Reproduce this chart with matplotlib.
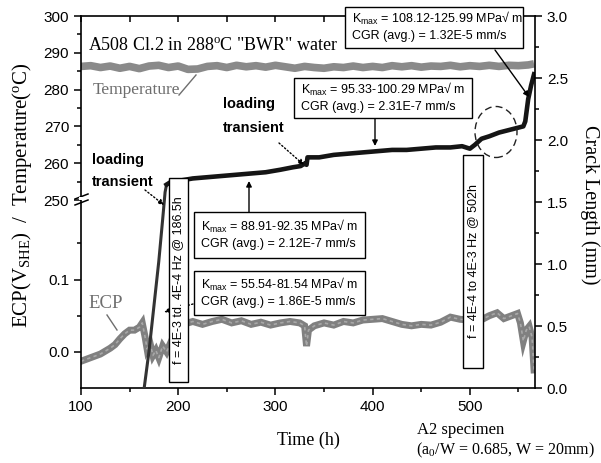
import matplotlib
matplotlib.use('Agg')
import matplotlib.pyplot as plt
from matplotlib.patches import Rectangle, Ellipse
from matplotlib.ticker import MultipleLocator, FixedLocator, FormatStrFormatter

# values
temp_t = [100, 110, 120, 130, 140, 150, 160, 170, 180, 190, 200, 210, 220, 230, 240,
          250, 260, 270, 280, 290, 300, 310, 320, 330, 340, 350, 360, 370, 380, 390,
          400, 410, 420, 430, 440, 450, 460, 470, 480, 490, 500, 510, 520, 530, 540,
          550, 560, 566]
temp_c = [286.3, 286.5, 286.0, 286.4, 285.8, 286.3, 285.7, 286.4, 286.6, 286.0, 286.4,
          285.5, 285.6, 286.3, 286.5, 286.0, 286.6, 286.2, 286.5, 286.1, 286.6, 286.2,
          285.8, 286.3, 286.0, 285.8, 286.2, 286.0, 286.4, 286.0, 286.3, 286.0, 286.5,
          286.2, 286.5, 286.1, 286.4, 286.3, 286.6, 286.2, 286.5, 286.3, 286.6, 286.3,
          286.6, 286.5, 286.7, 287.0]

ecp_t = [100, 110, 120, 130, 135, 140, 145, 150, 155, 160, 163, 166, 168, 171, 174,
         177, 180, 184, 188, 192, 196, 200, 205, 215, 225, 235, 245, 255, 265, 275,
         285, 295, 305, 315, 325, 330, 332, 334, 340, 350, 360, 370, 380, 390, 400,
         410, 420, 430, 440, 450, 460, 470, 480, 490, 500, 505, 510, 520, 528, 535,
         543, 549, 552, 555, 558, 561, 564, 566]
ecp_v = [-0.013, -0.008, -0.003, 0.005, 0.010, 0.018, 0.025, 0.030, 0.030, 0.034,
         0.040, 0.020, 0.004, 0.012, -0.005, 0.002, -0.008, 0.008, 0.000, 0.012,
         0.024, 0.033, 0.038, 0.042, 0.038, 0.042, 0.045, 0.040, 0.043, 0.038,
         0.041, 0.037, 0.040, 0.042, 0.040, 0.036, 0.008, 0.030, 0.036, 0.040,
         0.037, 0.042, 0.040, 0.044, 0.045, 0.046, 0.042, 0.038, 0.036, 0.038,
         0.037, 0.041, 0.048, 0.045, 0.044, 0.046, 0.043, 0.050, 0.054, 0.046,
         0.050, 0.053, 0.040, 0.015, 0.030, 0.035, 0.020, -0.025]

crack_t = [165, 170, 175, 180, 184, 186.5, 188, 192, 200, 215, 230, 245, 260, 275,
           290, 305, 318, 326, 330, 332, 333, 345, 360, 375, 390, 405, 420, 435, 450,
           465, 480, 492, 500, 505, 512, 520, 530, 540, 550, 555, 557, 560, 563, 566]
crack_mm = [0.0, 0.30, 0.66, 1.02, 1.36, 1.58, 1.64, 1.66, 1.67, 1.69, 1.70, 1.71,
            1.72, 1.73, 1.74, 1.76, 1.78, 1.79, 1.81, 1.80, 1.86, 1.86, 1.88, 1.89,
            1.90, 1.91, 1.92, 1.92, 1.93, 1.94, 1.94, 1.95, 1.93, 1.96, 2.01, 2.03,
            2.06, 2.08, 2.10, 2.11, 2.15, 2.33, 2.44, 2.53]

W, H = 601, 463
def fx(x):
    return x / W
def fy(y):
    return 1 - y / H

SERIF = ['Liberation Serif', 'DejaVu Serif']
SANS = ['Liberation Sans', 'DejaVu Sans']
plt.rcParams['font.family'] = SANS
plt.rcParams['axes.linewidth'] = 1.2

fig = plt.figure(figsize=(6.01, 4.63), dpi=100)

L, R, T, B, BRK = 81, 535, 16, 388, 200
ax_t = fig.add_axes([fx(L), fy(BRK), fx(R) - fx(L), fy(T) - fy(BRK)])
ax_b = fig.add_axes([fx(L), fy(B), fx(R) - fx(L), fy(BRK) - fy(B)])
ax_r = fig.add_axes([fx(L), fy(B), fx(R) - fx(L), fy(T) - fy(B)])

for ax in (ax_t, ax_b, ax_r):
    ax.set_xlim(100, 567)

# temperature (upper part of left axis)
ax_t.plot(temp_t, temp_c, color='#8a8a8a', lw=5.5, solid_capstyle='butt')
ax_t.set_ylim(250, 300)
ax_t.spines['bottom'].set_visible(False)
ax_t.spines['right'].set_visible(False)
ax_t.xaxis.set_major_locator(MultipleLocator(100))
ax_t.xaxis.set_minor_locator(MultipleLocator(50))
ax_t.tick_params(axis='x', which='both', top=True, bottom=False, labelbottom=False,
                 direction='in', length=4, width=1.1)
ax_t.yaxis.set_major_locator(MultipleLocator(10))
ax_t.yaxis.set_minor_locator(MultipleLocator(5))
ax_t.tick_params(axis='y', which='major', direction='out', length=5, width=1.1, labelsize=11)
ax_t.tick_params(axis='y', which='minor', direction='out', length=3, width=1.1)

# ECP (lower part of left axis)
ax_b.plot(ecp_t, ecp_v, color='#808080', lw=5, solid_joinstyle='miter')
ax_b.plot(ecp_t, ecp_v, color='#a8a8a8', lw=1.2, ls=(0, (2, 2)))
ax_b.set_ylim(-0.05, 0.21)
ax_b.spines['top'].set_visible(False)
ax_b.spines['right'].set_visible(False)
ax_b.xaxis.set_major_locator(MultipleLocator(100))
ax_b.xaxis.set_minor_locator(MultipleLocator(50))
ax_b.tick_params(axis='x', which='major', direction='out', length=5, width=1.1, labelsize=11)
ax_b.tick_params(axis='x', which='minor', direction='out', length=3, width=1.1)
ax_b.yaxis.set_major_locator(FixedLocator([0.0, 0.1]))
ax_b.yaxis.set_minor_locator(FixedLocator([0.05, 0.15]))
ax_b.yaxis.set_major_formatter(FormatStrFormatter('%.1f'))
ax_b.tick_params(axis='y', which='major', direction='out', length=5, width=1.1, labelsize=11)
ax_b.tick_params(axis='y', which='minor', direction='out', length=3, width=1.1)

# crack length (right axis)
ax_r.patch.set_visible(False)
ax_r.plot(crack_t[:7], crack_mm[:7], color='#333333', lw=2.2)
ax_r.plot(crack_t[6:], crack_mm[6:], color='#151515', lw=3.3)
ax_r.set_ylim(0, 3)
for s in ('left', 'top', 'bottom'):
    ax_r.spines[s].set_visible(False)
ax_r.set_xticks([])
ax_r.yaxis.tick_right()
ax_r.yaxis.set_major_locator(MultipleLocator(0.5))
ax_r.yaxis.set_minor_locator(MultipleLocator(0.25))
ax_r.yaxis.set_major_formatter(FormatStrFormatter('%.1f'))
ax_r.tick_params(axis='y', which='major', direction='out', length=5, width=1.1, labelsize=11)
ax_r.tick_params(axis='y', which='minor', direction='out', length=3, width=1.1)

# axis break marks
for dy in (0, 6):
    fig.add_artist(plt.Line2D([fx(75), fx(88)], [fy(199 + dy), fy(194 + dy)],
                              transform=fig.transFigure, color='k', lw=1.1))
fig.add_artist(Rectangle((fx(79), fy(200)), fx(84) - fx(79), fy(197) - fy(200),
                         transform=fig.transFigure, fc='white', ec='none', zorder=4))

# axis labels
fig.text(fx(22), fy(195), r'ECP(V$\mathregular{_{SHE}}$)  /  Temperature($\mathregular{^o}$C)',
         rotation=90, ha='center', va='center', fontsize=15, family=SERIF)
fig.text(fx(590), fy(205), 'Crack Length (mm)', rotation=270, ha='center', va='center',
         fontsize=14.5, family=SERIF)
fig.text(fx(308), fy(440), 'Time (h)', ha='center', va='center', fontsize=13, family=SERIF)
fig.text(fx(417), fy(430), 'A2 specimen', ha='left', va='center', fontsize=12, family=SERIF)
fig.text(fx(416), fy(450), r'(a$\mathregular{_0}$/W = 0.685, W = 20mm)', ha='left',
         va='center', fontsize=11.5, family=SERIF)

# in-plot labels
fig.text(fx(88), fy(45), r'A508 Cl.2 in 288$\mathregular{^o}$C "BWR" water', ha='left',
         va='center', fontsize=13, family=SERIF, zorder=6)
fig.text(fx(93), fy(90), 'Temperature', ha='left', va='center', fontsize=12.5,
         family=SERIF, color='#6e6e6e', zorder=6)
fig.add_artist(plt.Line2D([fx(179), fx(196)], [fy(95), fy(75)], transform=fig.transFigure,
                          color='#6e6e6e', lw=1))
fig.text(fx(88), fy(303), 'ECP', ha='left', va='center', fontsize=13.5, family=SERIF,
         color='#6e6e6e', zorder=6)
fig.add_artist(plt.Line2D([fx(107), fx(117)], [fy(315), fy(330)], transform=fig.transFigure,
                          color='#6e6e6e', lw=1))

fig.text(fx(92), fy(160), 'loading', ha='left', va='center', fontsize=10.5,
         fontweight='bold', zorder=6)
fig.text(fx(92), fy(182), 'transient', ha='left', va='center', fontsize=10.5,
         fontweight='bold', zorder=6)
fig.text(fx(223), fy(104), 'loading', ha='left', va='center', fontsize=10.5,
         fontweight='bold', zorder=6)
fig.text(fx(223), fy(128), 'transient', ha='left', va='center', fontsize=10.5,
         fontweight='bold', zorder=6)


def arrow(x0, y0, x1, y1, ls='-'):
    ax_r.annotate('', xy=(fx(x1), fy(y1)), xytext=(fx(x0), fy(y0)),
                  xycoords='figure fraction', textcoords='figure fraction',
                  arrowprops=dict(arrowstyle='-|>', lw=1, color='k', ls=ls,
                                  mutation_scale=8, shrinkA=0, shrinkB=0))


arrow(145, 190, 164, 205, ':')
arrow(279, 143, 304, 165, ':')
arrow(193, 304, 164, 312, ':')
arrow(249, 212, 249, 181)
arrow(375, 119, 375, 146)
arrow(495, 50, 529, 97)


def box(x0, y0, x1, y1):
    fig.add_artist(Rectangle((fx(x0), fy(y1)), fx(x1) - fx(x0), fy(y0) - fy(y1),
                             transform=fig.transFigure, fc='white', ec='k', lw=1, zorder=5))


kbox = [
    (194, 212, 365, 258, '88.91-92.35', '2.12E-7'),
    (194, 271, 365, 315, '55.54-81.54', '1.86E-5'),
    (294, 78, 472, 118, '95.33-100.29', '2.31E-7'),
    (345, 7, 523, 48, '108.12-125.99', '1.32E-5'),
]
for x0, y0, x1, y1, k, cgr in kbox:
    box(x0, y0, x1, y1)
    ym = (y0 + y1) / 2
    fig.text(fx(x0 + 7), fy(ym - 9), r'K$\mathregular{_{max}}$ = ' + k + ' MPa\u221a m',
             ha='left', va='center', fontsize=9, zorder=6)
    fig.text(fx(x0 + 7), fy(ym + 9), 'CGR (avg.) = ' + cgr + ' mm/s',
             ha='left', va='center', fontsize=9, zorder=6)

box(169, 178, 188, 382)
fig.text(fx(178.5), fy(280), 'f = 4E-3 td. 4E-4 Hz @ 186.5h', rotation=90, ha='center',
         va='center', fontsize=9, zorder=6)
box(463, 155, 483, 368)
fig.text(fx(473), fy(261), 'f = 4E-4 to 4E-3 Hz @ 502h', rotation=90, ha='center',
         va='center', fontsize=9, zorder=6)

fig.add_artist(Ellipse((fx(496), fy(132)), 42 / W, 51 / H, transform=fig.transFigure,
                       fill=False, ec='#222222', lw=1, ls=(0, (5, 3)), zorder=6))

fig.savefig('out.png', dpi=100)
